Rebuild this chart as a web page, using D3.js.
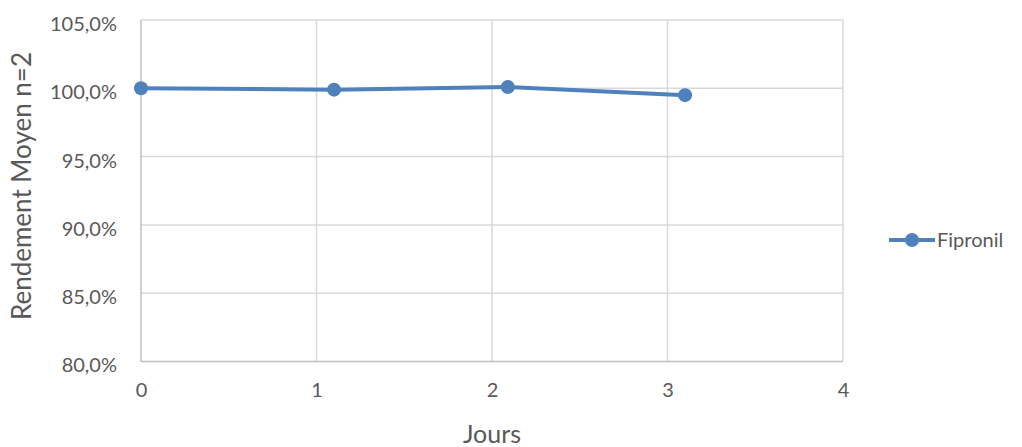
<!DOCTYPE html>
<html><head><meta charset="utf-8">
<script src="https://cdn.jsdelivr.net/npm/d3@7"></script>
<style>body{margin:0;background:#fff;} text{font-family:Lato,"Open Sans",sans-serif;fill:#595959;}</style>
</head><body>
<svg id="c" width="1022" height="447"></svg>
<script>
const days = [0, 1.1, 2.09, 3.1];
const rendement = [100.0, 99.9, 100.1, 99.5];
const seriesName = "Fipronil";
const xTicks = [0, 1, 2, 3, 4];
const yTicks = [80, 85, 90, 95, 100, 105];
const xTitle = "Jours";
const yTitle = "Rendement Moyen n=2";

const svg = d3.select("#c");
const L = 141, R = 843, T = 20, B = 361.5;
const x = d3.scaleLinear().domain([0, 4]).range([L, R]);
const y = d3.scaleLinear().domain([80, 105]).range([B, T]);
const fmt = v => d3.format(".1f")(v).replace(".", ",") + "%";
const color = "#4f81bd";

// gridlines
svg.append("g").selectAll("line").data(yTicks.filter(d => d !== 80)).join("line")
  .attr("x1", L).attr("x2", R).attr("y1", d => y(d)).attr("y2", d => y(d))
  .attr("stroke", "#d9d9d9").attr("stroke-width", 1.5);
svg.append("g").selectAll("line").data(xTicks.filter(d => d !== 0)).join("line")
  .attr("x1", d => x(d)).attr("x2", d => x(d)).attr("y1", T).attr("y2", B)
  .attr("stroke", "#d9d9d9").attr("stroke-width", 1.5);
// axes lines
svg.append("line").attr("x1", L).attr("x2", L).attr("y1", T).attr("y2", B).attr("stroke", "#bfbfbf").attr("stroke-width", 1.5);
svg.append("line").attr("x1", L).attr("x2", R).attr("y1", B).attr("y2", B).attr("stroke", "#bfbfbf").attr("stroke-width", 1.5);

// tick labels
const yAxis = d3.axisLeft(y).tickValues(yTicks).tickFormat(fmt).tickSize(0).tickPadding(24);
const gy = svg.append("g").attr("transform", `translate(${L},4)`).call(yAxis);
gy.select(".domain").remove();
gy.selectAll("text").style("font-size", "20px").attr("fill", "#595959");
const xAxis = d3.axisBottom(x).tickValues(xTicks).tickFormat(d3.format("d")).tickSize(0).tickPadding(21);
const gx = svg.append("g").attr("transform", `translate(0,${B})`).call(xAxis);
gx.select(".domain").remove();
gx.selectAll("text").style("font-size", "20px").attr("fill", "#595959");

// titles
svg.append("text").attr("x", x(2)).attr("y", 443).attr("text-anchor", "middle").style("font-size", "25px").text(xTitle);
svg.append("text").attr("transform", `translate(31,186) rotate(-90)`).attr("text-anchor", "middle").style("font-size", "26px").text(yTitle);

// series
const data = days.map((d, i) => ({ x: d, y: rendement[i] }));
svg.append("path").datum(data)
  .attr("d", d3.line().x(d => x(d.x)).y(d => y(d.y)))
  .attr("fill", "none").attr("stroke", color).attr("stroke-width", 4).attr("stroke-linejoin", "round");
svg.append("g").selectAll("circle").data(data).join("circle")
  .attr("cx", d => x(d.x)).attr("cy", d => y(d.y)).attr("r", 7).attr("fill", color);

// legend
const lg = svg.append("g").attr("transform", "translate(889,240)");
lg.append("line").attr("x1", 0).attr("x2", 46).attr("stroke", color).attr("stroke-width", 4);
lg.append("circle").attr("cx", 23).attr("r", 7).attr("fill", color);
lg.append("text").attr("x", 48).attr("y", 7).style("font-size", "20px").text(seriesName);
</script>
</body></html>
